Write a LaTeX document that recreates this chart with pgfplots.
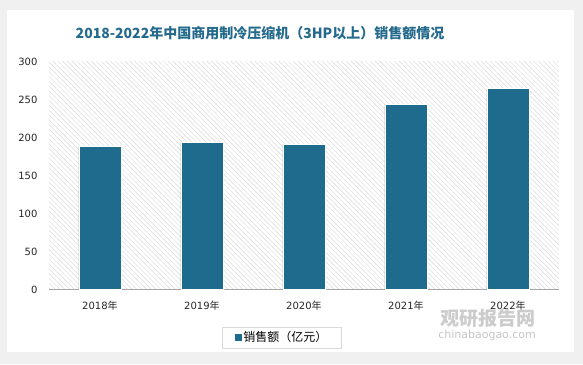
\documentclass[border=0pt]{standalone}
\usepackage{pgfplots}
\pgfplotsset{compat=1.18}
\usetikzlibrary{patterns.meta}
\usepackage{fontspec}
\setmainfont{DejaVu Sans}
\newfontfamily\cjk{Noto Sans CJK SC}
\definecolor{barc}{HTML}{1F6B8E}
\definecolor{titc}{HTML}{236A8C}
\begin{document}
\begin{tikzpicture}[x=1pt,y=1pt]
\fill[gray!12] (0,0) rectangle (583,364);
\fill[white] (7,12) rectangle (574,354);
\node[font=\cjk\bfseries\fontsize{14}{16}\selectfont, text=titc] at (260,331) {2018-2022年中国商用制冷压缩机（3HP以上）销售额情况};
\begin{axis}[
  at={(48,98)}, anchor=south west, scale only axis,
  width=510pt, height=228pt,
  ymin=0, ymax=300, ytick={0,50,...,300},
  xmin=-0.5, xmax=4.5, xtick={0,...,4},
  xticklabels={2018{\cjk 年},2019{\cjk 年},2020{\cjk 年},2021{\cjk 年},2022{\cjk 年}},
  ybar, bar width=42pt, bar shift=0pt,
  axis x line*=bottom, axis y line*=left,
  y axis line style={draw=none},
  x axis line style={gray!70, line width=0.8pt},
  major tick length=0pt,
  tick label style={font=\fontsize{10}{12}\selectfont, text=black!85},
  /pgf/number format/assume math mode=true,
  yticklabel style={xshift=-8pt},
  xticklabel style={yshift=-8pt},
  axis background/.style={pattern={Lines[angle=-45,distance=3.4pt,line width=0.45pt]}, pattern color=gray!30},
  legend style={at={(0.457,-0.21)}, anchor=center, draw=gray!30, font=\cjk\fontsize{12}{14}\selectfont, inner xsep=12pt, inner ysep=2.5pt},
  legend image code/.code={\fill[barc] (0pt,-3pt) rectangle (6pt,3pt);},
]
\addplot[fill=barc, draw=white, line width=0.8pt] coordinates {(0,188.2) (1,193.8) (2,190.4) (3,243) (4,264)};
\addlegendentry{销售额（亿元）}
\end{axis}
\node[font=\cjk\bfseries\fontsize{19}{21}\selectfont, text=gray!40] at (488,46) {观研报告网};
\node[font=\fontsize{11}{13}\selectfont, text=gray!45] at (487,29) {chinabaogao.com};
\end{tikzpicture}
\end{document}
